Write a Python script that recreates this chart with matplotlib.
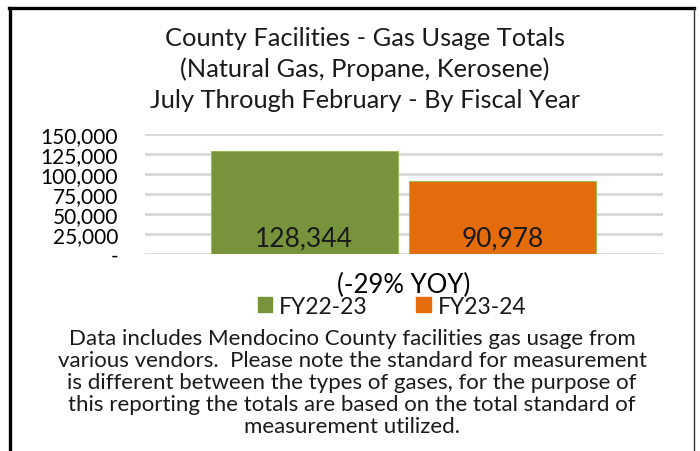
"""County facilities gas usage totals, July-February, FY22-23 vs FY23-24."""

import numpy as np

import matplotlib
matplotlib.use("Agg")
import matplotlib.pyplot as plt
from matplotlib.patches import Rectangle
from matplotlib.lines import Line2D
from matplotlib.ticker import FuncFormatter

plt.rcParams.update({
    "font.family": ["Lato", "DejaVu Sans"],
    "text.color": "#1a1a1a",
})

CATEGORIES = ["(-29% YOY)"]
SERIES = ["FY22-23", "FY23-24"]
VALUES = [[128344], [90978]]
COLORS = ["#77933C", "#E46C0A"]
TITLE = ["County Facilities - Gas Usage Totals",
         "(Natural Gas, Propane, Kerosene)",
         "July Through February - By Fiscal Year"]
NOTE = ("Data includes Mendocino County facilities gas usage from\n"
        "various vendors.  Please note the standard for measurement\n"
        "is different between the types of gases, for the purpose of\n"
        "this reporting the totals are based on the total standard of\n"
        "measurement utilized.")

W, H = 700, 452
fig = plt.figure(figsize=(W / 100, H / 100), dpi=100)

# chart frame (left/top heavy, right thin, bottom cut off)
fig.add_artist(Line2D([9.5 / W, 9.5 / W], [0, 1 - 8.5 / H], transform=fig.transFigure,
                      color="black", linewidth=2.4))
fig.add_artist(Line2D([8.5 / W, 694 / W], [1 - 8.8 / H, 1 - 8.8 / H], transform=fig.transFigure,
                      color="black", linewidth=2.4))
fig.add_artist(Line2D([694 / W, 694 / W], [0, 1 - 8.8 / H], transform=fig.transFigure,
                      color="#333333", linewidth=1.0))

for i, line in enumerate(TITLE):
    fig.text(365 / W, 1 - (38 + 31 * i) / H, line, ha="center", va="center", fontsize=18.3)

ax = fig.add_axes([145 / W, 1 - 255 / H, (663 - 145) / W, 120 / H])
x = np.arange(len(CATEGORIES))
width = 0.36
offsets = [-0.1925, 0.19]
for vals, off, col, name in zip(VALUES, offsets, COLORS, SERIES):
    bars = ax.bar(x + off, vals, width=width, color=col, edgecolor="#9BBB59",
                  linewidth=0.8, label=name, zorder=3)
    for b, v in zip(bars, vals):
        ax.text(b.get_x() + b.get_width() / 2, 4500, f"{v:,}", ha="center",
                va="bottom", fontsize=19, zorder=4)

ax.set_xlim(-0.5, 0.5)
ax.set_ylim(0, 150000)
ax.set_yticks(np.arange(0, 150001, 25000))
ax.yaxis.set_major_formatter(FuncFormatter(lambda v, p: "-" if v == 0 else f"{v:,.0f}"))
ax.tick_params(axis="y", length=0, labelsize=15, pad=19.5)
ax.set_xticks(x)
ax.set_xticklabels(CATEGORIES, fontsize=18.5)
ax.tick_params(axis="x", length=0, pad=13)
ax.grid(axis="y", color="#D9D9D9", linewidth=2, zorder=0)
for s in ax.spines.values():
    s.set_visible(False)

handles = [Rectangle((0, 0), 1, 1, color=c) for c in COLORS]
fig.legend(handles, SERIES, loc="center", bbox_to_anchor=(392 / W, 1 - 307 / H),
           ncol=2, frameon=False, fontsize=16.5, handlelength=0.65, handleheight=0.65,
           handletextpad=0.3, columnspacing=2.1, borderpad=0)

fig.text(352 / W, 1 - 383 / H, NOTE, ha="center", va="center", fontsize=16,
         linespacing=1.13)

fig.savefig("out.png", dpi=100)
